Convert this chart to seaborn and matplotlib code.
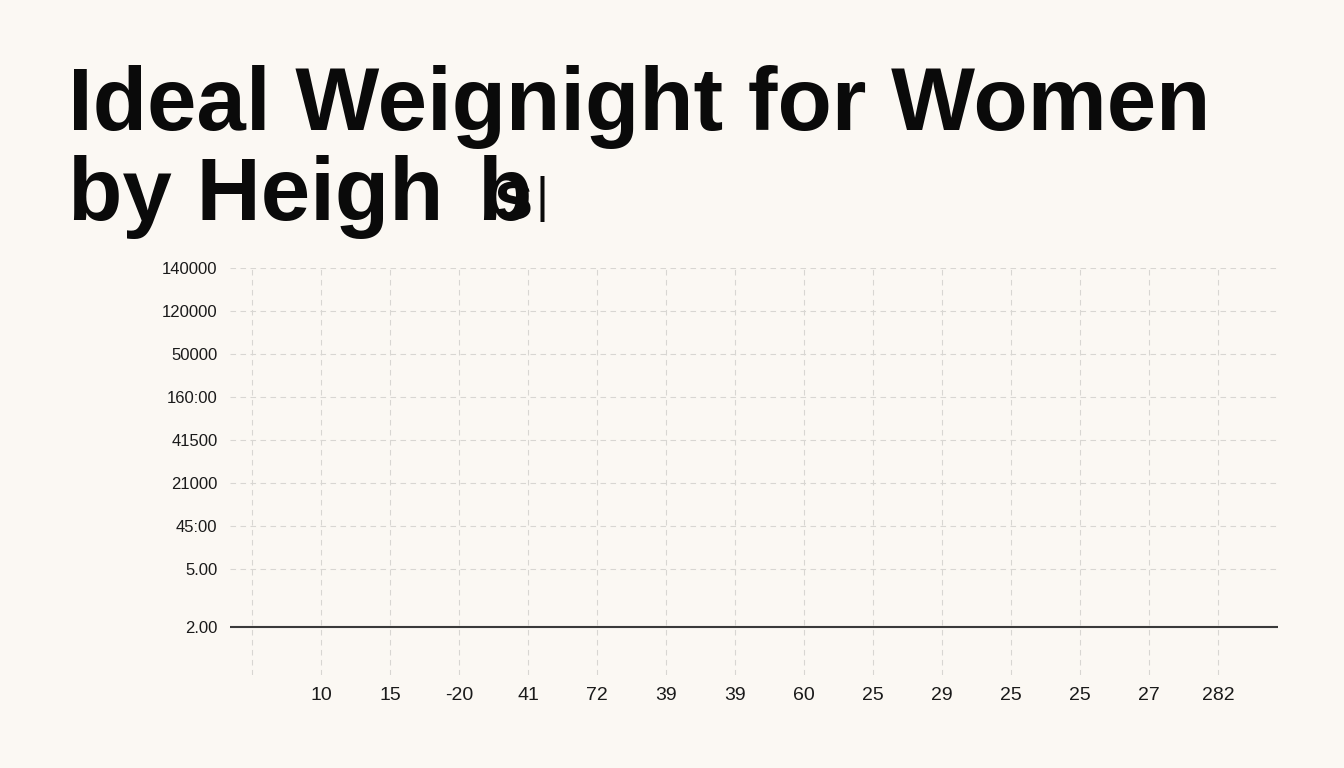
import matplotlib
matplotlib.use('Agg')
from matplotlib import pyplot as plt
import pandas as pd
import seaborn as sns

# chart data (labels are kept exactly as printed)
height_labels = ['', '10', '15', '-20', '41', '72', '39', '39', '60', '25', '29', '25', '25', '27', '282']
weight_labels = ['2.00', '5.00', '45:00', '21000', '41500', '160:00', '50000', '120000', '140000']
baseline_label = '2.00'

title_line1 = 'Ideal Weignight for Women'
title_line2 = 'by Heigh'
title_tail = ['b', 's', '|']

bg = '#fbf8f3'

sns.set_theme(style='white')
plt.rcParams['font.family'] = ['Liberation Sans', 'DejaVu Sans']

fig = plt.figure(figsize=(13.44, 7.68), dpi=100, facecolor=bg)
ax = fig.add_axes([230 / 1344, 1 - 675 / 768, 1048 / 1344, 407 / 768])
ax.set_facecolor(bg)

# x positions: one gridline per height category
x_pos = list(range(len(height_labels)))
# y positions: the bottom label sits a bit lower than the regular spacing
gap = 58 / 43
y_pos = [0] + [gap + i for i in range(len(weight_labels) - 1)]

df = pd.DataFrame({'pos': y_pos, 'label': weight_labels})

ax.set_xlim(-22 / 69, 1026 / 69)
ax.set_ylim(-48 / 43, y_pos[-1])

ax.set_xticks(x_pos)
ax.set_xticklabels(height_labels, family=['Liberation Sans Narrow', 'Liberation Sans'], fontsize=14, color='#1a1a1a')
ax.set_yticks(df['pos'])
ax.set_yticklabels(df['label'], fontsize=12, color='#1a1a1a')
ax.tick_params(axis='both', length=0)
ax.tick_params(axis='x', pad=9)
ax.tick_params(axis='y', pad=9)

ax.grid(True, linestyle=(0, (5, 4)), color='#d8d6d2', linewidth=0.8)
# hide the gridline under the solid baseline
ax.yaxis.get_gridlines()[0].set_visible(False)

base = df.loc[df['label'] == baseline_label, 'pos'].iloc[0]
ax.axhline(base, color='#3a3a3a', linewidth=1.5, zorder=3)

sns.despine(ax=ax, left=True, bottom=True)

# title, the broken end of line 2 is drawn piece by piece
fs = 64
fig.text(68 / 1344, 1 - 130 / 768, title_line1, fontsize=fs, fontweight='bold', color='#0a0a0a', va='baseline', ha='left')
fig.text(68 / 1344, 1 - 220 / 768, title_line2, fontsize=fs, fontweight='bold', color='#0a0a0a', va='baseline', ha='left')
fig.text(477 / 1344, 1 - 220 / 768, title_tail[0], fontsize=fs, fontweight='bold', color='#0a0a0a', va='baseline', ha='left')
fig.text(493 / 1344, 1 - 220 / 768, title_tail[1], fontsize=51, fontweight='bold', color='#0a0a0a', va='baseline', ha='left')
fig.text(535 / 1344, 1 - 212 / 768, title_tail[2], fontsize=36, color='#0a0a0a', va='baseline', ha='left')

fig.savefig('out.png', dpi=100, facecolor=bg)
